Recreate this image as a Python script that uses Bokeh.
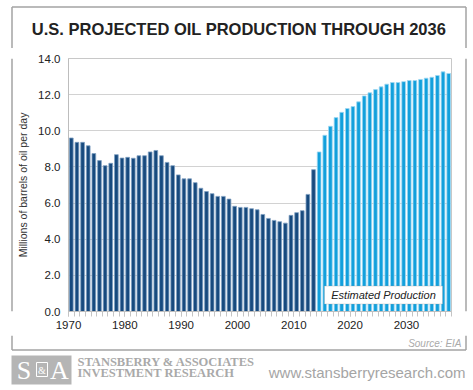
from bokeh.plotting import figure
from bokeh.layouts import column, row
from bokeh.models import (ColumnDataSource, Range1d, FixedTicker, PrintfTickFormatter,
                          Label, BoxAnnotation)
from bokeh.core.properties import value
from bokeh.transform import dodge
from bokeh.embed import file_html
from bokeh.resources import INLINE

# ---- data (millions of barrels per day) ----
hist_years = list(range(1970, 2014))
hist_values = [9.60, 9.36, 9.36, 9.17, 8.74, 8.35, 8.07, 8.20, 8.68, 8.49,
               8.53, 8.48, 8.62, 8.62, 8.83, 8.91, 8.62, 8.25, 8.07, 7.56,
               7.34, 7.34, 7.13, 6.82, 6.64, 6.52, 6.37, 6.37, 6.22, 5.82,
               5.76, 5.76, 5.69, 5.63, 5.37, 5.15, 5.04, 4.97, 4.89, 5.32,
               5.47, 5.58, 6.48, 7.85]
proj_years = list(range(2014, 2038))
proj_values = [8.83, 9.75, 10.25, 10.73, 11.02, 11.23, 11.34, 11.60, 11.93, 12.10,
               12.28, 12.43, 12.58, 12.67, 12.67, 12.72, 12.78, 12.78, 12.84, 12.91,
               12.96, 13.06, 13.26, 13.17]
decade_ticks = [1970, 1980, 1990, 2000, 2010, 2020, 2030]
y_ticks = [0, 2, 4, 6, 8, 10, 12, 14]

title = "U.S. PROJECTED OIL PRODUCTION THROUGH 2036"
y_title = "Millions of barrels of oil per day"
note = "Estimated Production"
source_txt = "Source: EIA"
brand_lines = ["STANSBERRY & ASSOCIATES", "INVESTMENT RESEARCH"]
url = "www.stansberryresearch.com"

BORDER = "#a3a3a3"
BW = 1.5
TOTAL_W = 472
XL, XR = 11.5, 465.5   # border x positions (page px)


def deco(w, h):
    """Decoration figure whose frame is its whole canvas, pixel coords from top-left."""
    f = figure(width=w, height=h, output_backend="svg", toolbar_location=None,
               x_range=Range1d(0, w), y_range=Range1d(h, 0),
               x_axis_type=None, y_axis_type=None,
               min_border_left=0, min_border_right=0, min_border_top=0,
               min_border_bottom=0)
    f.outline_line_color = None
    f.background_fill_color = "white"
    f.border_fill_color = "white"
    return f


# ---------- top: title + top border ----------
TOP_H = 48
top = deco(TOTAL_W, TOP_H)
top.segment(x0=[XL, XL, XR], y0=[6.5, 6.5, 6.5], x1=[XR, XL, XR], y1=[6.5, TOP_H, TOP_H],
            line_color=BORDER, line_width=BW)
top.text(x=[238.5], y=[28.5], text=[title], text_align="center", text_baseline="middle",
         text_font=value("Liberation Sans"), text_font_style="bold",
         text_font_size="16.5px", text_color="#222222")

# ---------- main chart ----------
MAIN_H = 287
LW = 14
CW = 446
RW = TOTAL_W - LW - CW

p = figure(width=CW, height=MAIN_H, output_backend="svg", toolbar_location=None,
           x_range=Range1d(1970, 2038), y_range=Range1d(0, 14),
           min_border_left=54, min_border_right=9, min_border_top=10,
           min_border_bottom=24)
p.background_fill_color = "white"
p.border_fill_color = "white"
p.outline_line_color = "#c8c8c8"

hsrc = ColumnDataSource(dict(year=hist_years, value=hist_values))
psrc = ColumnDataSource(dict(year=proj_years, value=proj_values))
p.vbar(x=dodge("year", 0.5), top="value", width=0.66, source=hsrc,
       fill_color="#174a7e", line_color="#7f9fc2", line_width=0.8)
p.vbar(x=dodge("year", 0.5), top="value", width=0.66, source=psrc,
       fill_color="#12a0dc", line_color="#9fd8f2", line_width=0.8)

p.xgrid.visible = False
p.ygrid.grid_line_color = "#d2d2d2"
p.ygrid.ticker = FixedTicker(ticks=y_ticks)

yax = p.yaxis[0]
yax.ticker = FixedTicker(ticks=y_ticks)
yax.formatter = PrintfTickFormatter(format="%.1f")
yax.major_tick_out = 0
yax.minor_tick_out = 0
yax.major_tick_in = 0
yax.minor_tick_in = 0
yax.axis_line_color = "#bdbdbd"
yax.major_label_standoff = 8
yax.major_label_text_font = "Liberation Sans"
yax.major_label_text_font_size = "11.5px"
yax.major_label_text_color = "#222222"
yax.axis_label = y_title
yax.axis_label_standoff = 6
yax.axis_label_text_font = "Liberation Sans"
yax.axis_label_text_font_style = "normal"
yax.axis_label_text_font_size = "10.5px"
yax.axis_label_text_color = "#333333"

xax = p.xaxis[0]
xax.ticker = FixedTicker(ticks=decade_ticks, minor_ticks=list(range(1970, 2039)))
xax.major_tick_out = 5
xax.major_tick_in = 0
xax.minor_tick_out = 5
xax.minor_tick_in = 0
xax.major_tick_line_color = "#c4c4c4"
xax.minor_tick_line_color = "#c4c4c4"
xax.axis_line_color = "#bdbdbd"
xax.major_label_standoff = 4
xax.major_label_text_font = "Liberation Sans"
xax.major_label_text_font_size = "11.5px"
xax.major_label_text_color = "#222222"

# "Estimated Production" box inside the plot area
p.add_layout(BoxAnnotation(left=2015.45, right=2036.4, bottom=0.415, top=1.41,
                           fill_color="white", fill_alpha=1, line_color="#9a9a9a",
                           line_width=1))
p.add_layout(Label(x=2025.93, y=0.913, text=note, text_align="center",
                   text_baseline="middle", text_font="Liberation Sans",
                   text_font_style="italic", text_font_size="11px",
                   text_color="#222222"))

left = deco(LW, MAIN_H)
left.segment(x0=[XL], y0=[0], x1=[XL], y1=[MAIN_H], line_color=BORDER, line_width=BW)
right = deco(RW, MAIN_H)
right.segment(x0=[XR - LW - CW], y0=[0], x1=[XR - LW - CW], y1=[MAIN_H],
              line_color=BORDER, line_width=BW)

# ---------- bottom of bordered box: source ----------
BOT_H = 16
bot = deco(TOTAL_W, BOT_H)
bot.segment(x0=[XL, XL, XR], y0=[14.5, 0, 0], x1=[XR, XL, XR], y1=[14.5, 14.5, 14.5],
            line_color=BORDER, line_width=BW)
bot.text(x=[461], y=[7.5], text=[source_txt], text_align="right", text_baseline="middle",
         text_font=value("Liberation Sans"), text_font_style="italic",
         text_font_size="10px", text_color="#aaaaaa")

# ---------- footer ----------
FOOT_H = 38
foot = deco(TOTAL_W, FOOT_H)
foot.quad(left=[11], right=[71], top=[4], bottom=[33], fill_color="#b5b5b5",
          line_color=None)
foot.quad(left=[36], right=[47], top=[11], bottom=[25], fill_alpha=0,
          line_color="white", line_width=1)
foot.text(x=[23.5, 59], y=[19, 19], text=["S", "A"], text_align="center",
          text_baseline="middle", text_font=value("Liberation Serif"),
          text_font_size="26px", text_color="white")
foot.text(x=[41.5], y=[18.5], text=["&"], text_align="center", text_baseline="middle",
          text_font=value("Liberation Serif"), text_font_size="10px", text_color="white")
foot.text(x=[77, 77], y=[10.5, 21], text=brand_lines, text_align="left",
          text_baseline="middle", text_font=value("Liberation Serif"),
          text_font_style="bold", text_font_size="12.5px", text_color="#a9a9a9")
foot.text(x=[465], y=[20.5], text=[url], text_align="right", text_baseline="middle",
          text_font=value("Liberation Sans"), text_font_size="15px", text_color="#a5a5a5")

layout = column(top, row(left, p, right, spacing=0), bot, foot, spacing=0)

open("out.html", "w").write(file_html(layout, INLINE))
